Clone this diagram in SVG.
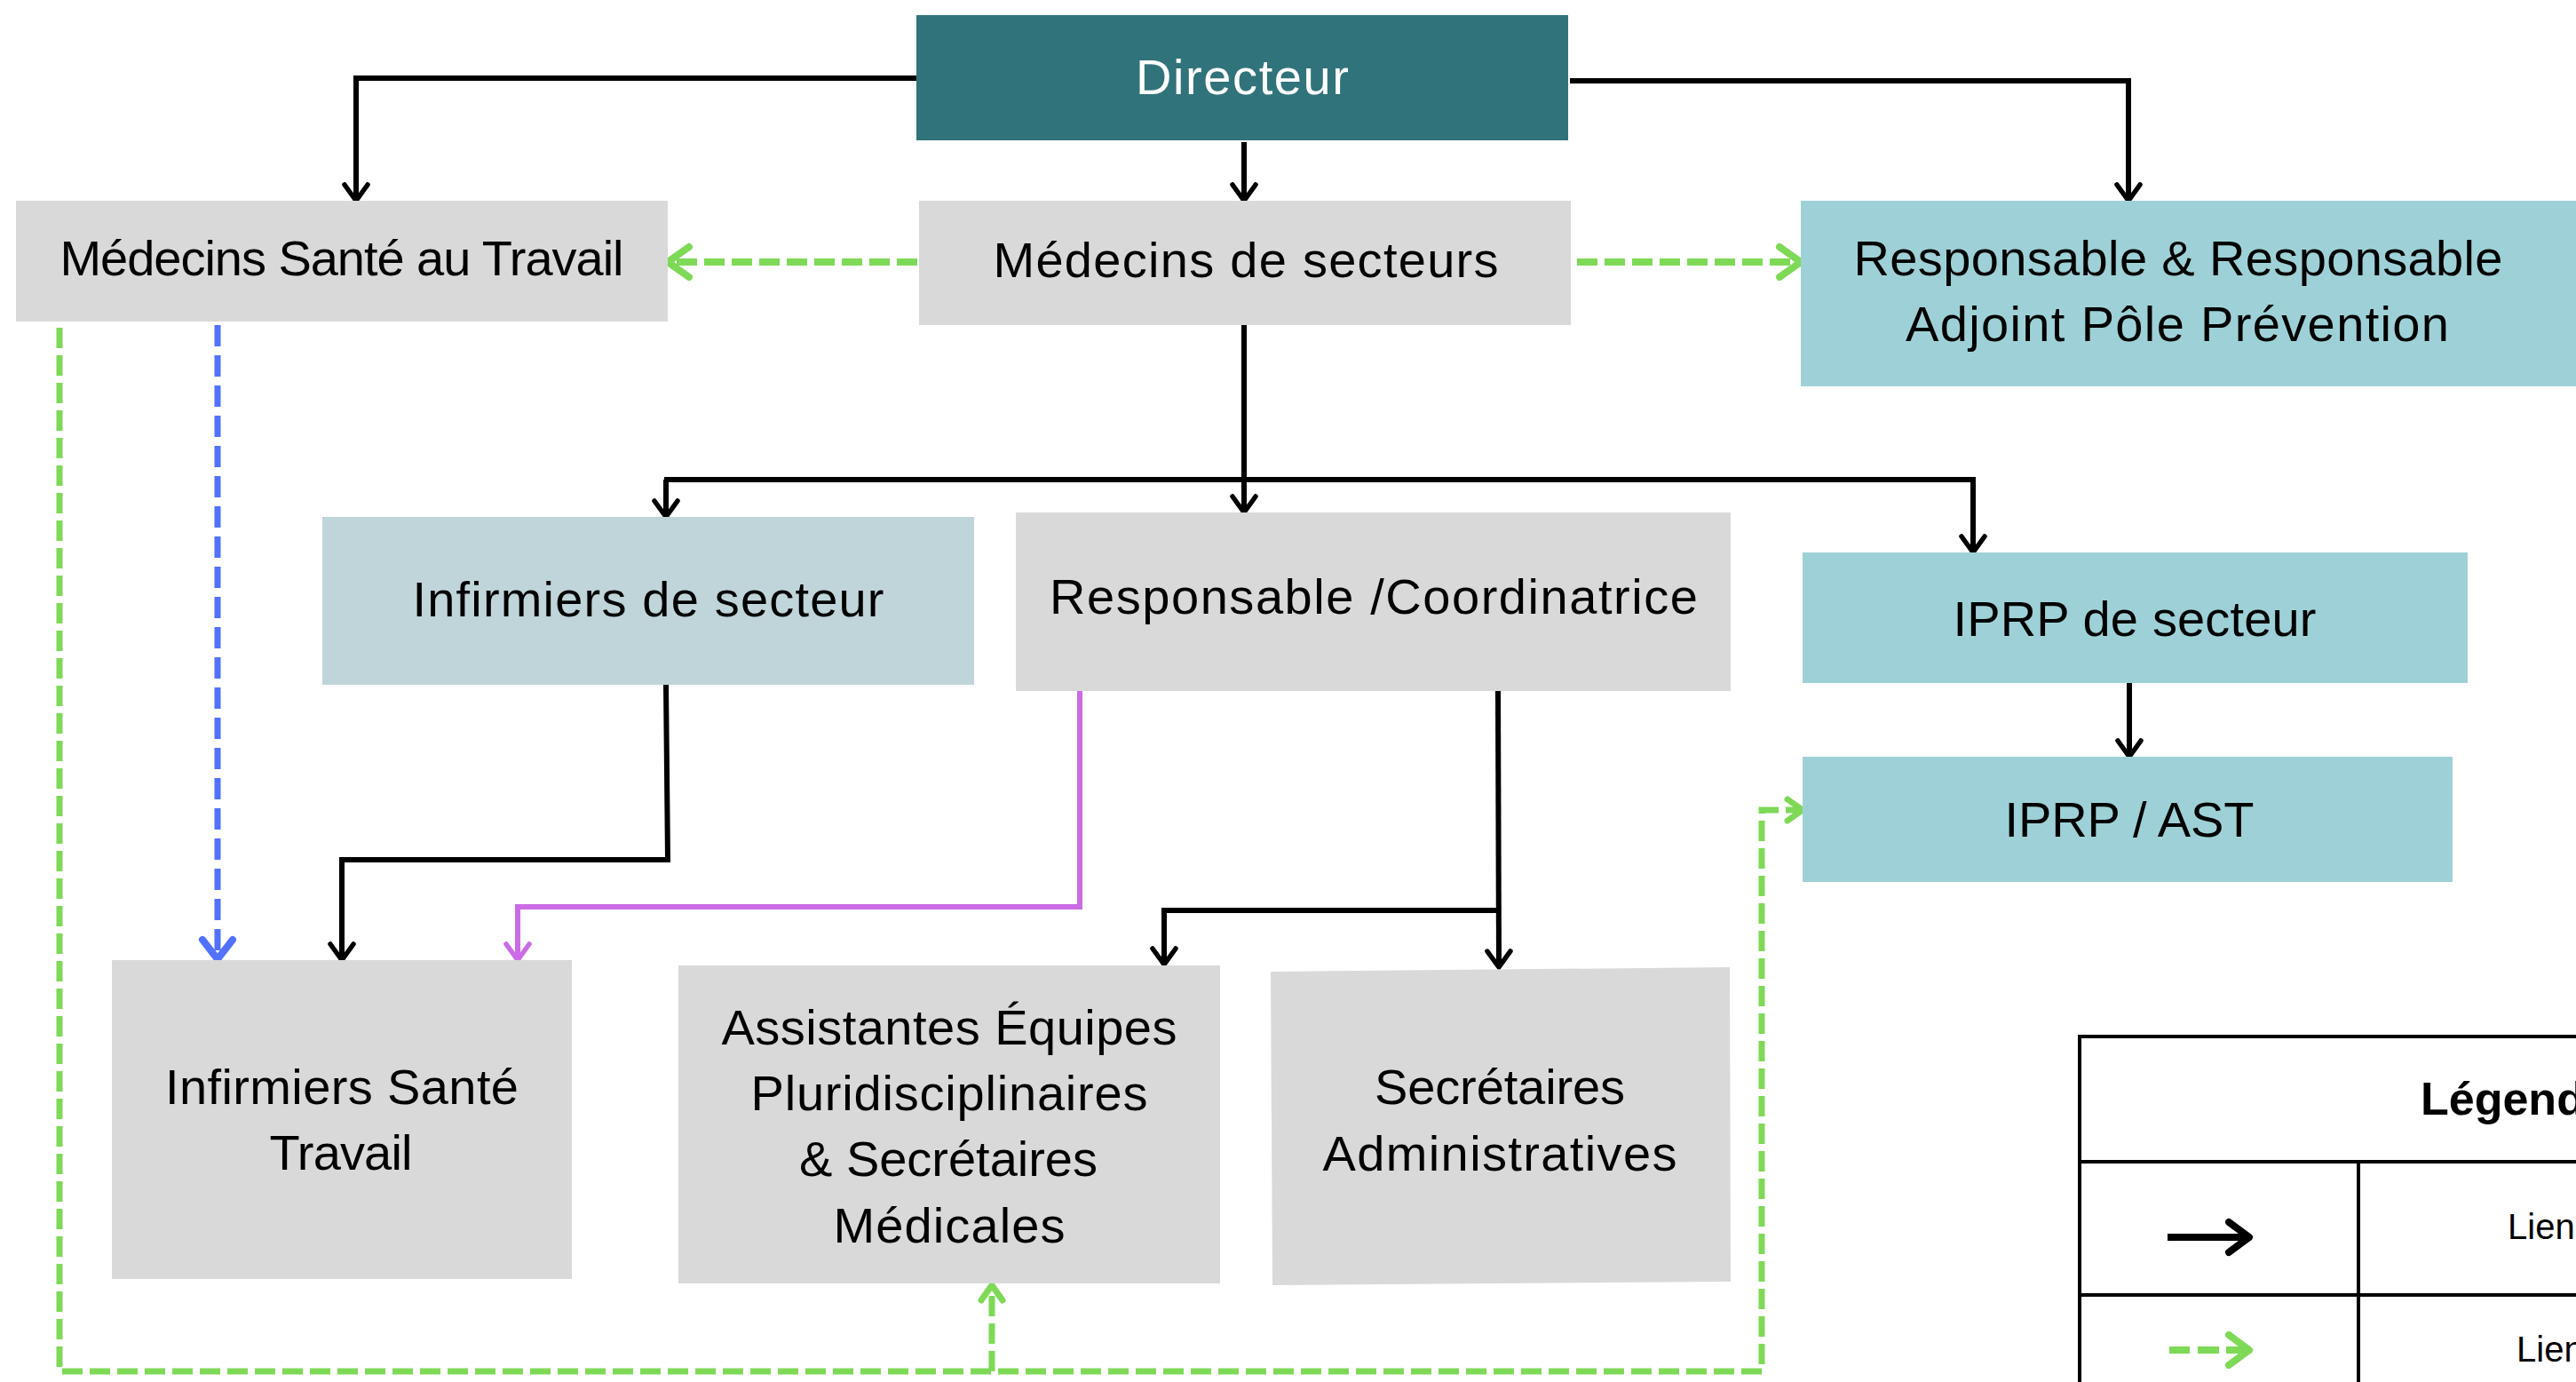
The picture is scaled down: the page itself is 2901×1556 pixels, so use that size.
<svg xmlns="http://www.w3.org/2000/svg" width="2901" height="1556" viewBox="0 0 2901 1556">
<style>
.t{font-family:"Liberation Sans",Arial,sans-serif;font-size:56px;fill:#000;text-anchor:middle}
.w{fill:#fff}
.gray{fill:#D9D9D9}
.teal{fill:#9ED1D7}
.pale{fill:#C0D5D9}
.dark{fill:#31737B}
.k{fill:none;stroke:#000;stroke-width:6;stroke-linejoin:miter}
.g{fill:none;stroke:#7ED957;stroke-width:7;stroke-dasharray:23 8}
.b{fill:none;stroke:#5271FF;stroke-width:7;stroke-dasharray:24 10}
.p{fill:none;stroke:#CB6CE6;stroke-width:6}
.leg{fill:none;stroke:#000;stroke-width:4}
</style>
<defs>
<marker id="mk" viewBox="-30 -30 40 60" refX="0" refY="0" markerWidth="40" markerHeight="60" markerUnits="userSpaceOnUse" orient="auto" overflow="visible">
<path d="M-15,-13 L3,0 L-15,13" fill="none" stroke="#000" stroke-width="5.5" stroke-linecap="round" stroke-linejoin="round"/>
</marker>
<marker id="mp" viewBox="-30 -30 40 60" refX="0" refY="0" markerWidth="40" markerHeight="60" markerUnits="userSpaceOnUse" orient="auto" overflow="visible">
<path d="M-15,-13 L3,0 L-15,13" fill="none" stroke="#CB6CE6" stroke-width="5.5" stroke-linecap="round" stroke-linejoin="round"/>
</marker>
<marker id="mb" viewBox="-30 -30 40 60" refX="0" refY="0" markerWidth="40" markerHeight="60" markerUnits="userSpaceOnUse" orient="auto" overflow="visible">
<path d="M-19,-17 L3,0 L-19,17" fill="none" stroke="#5271FF" stroke-width="8" stroke-linecap="round" stroke-linejoin="round"/>
</marker>
<marker id="mgL" viewBox="-30 -30 40 60" refX="0" refY="0" markerWidth="40" markerHeight="60" markerUnits="userSpaceOnUse" orient="auto" overflow="visible">
<path d="M-21,-17 L3,0 L-21,17" fill="none" stroke="#7ED957" stroke-width="8" stroke-linecap="round" stroke-linejoin="round"/>
</marker>
<marker id="mgS" viewBox="-30 -30 40 60" refX="0" refY="0" markerWidth="40" markerHeight="60" markerUnits="userSpaceOnUse" orient="auto" overflow="visible">
<path d="M-14,-12 L3,0 L-14,12" fill="none" stroke="#7ED957" stroke-width="7" stroke-linecap="round" stroke-linejoin="round"/>
</marker>
</defs>
<rect width="2901" height="1556" fill="#fff"/>

<g id="connectors">
<path class="k" d="M1032,88 H401 V223" marker-end="url(#mk)"/>
<path class="k" d="M1401,160 V223" marker-end="url(#mk)"/>
<path class="k" d="M1768,91 H2397 V223" marker-end="url(#mk)"/>
<path class="k" d="M1401,366 V574" marker-end="url(#mk)"/>
<path class="k" d="M750,540 V579" marker-end="url(#mk)"/>
<path class="k" d="M748,540 H2222 V619" marker-end="url(#mk)"/>
<path class="k" d="M2398,769 V849" marker-end="url(#mk)"/>
<path class="k" d="M750,771 L752,968 H385 V1078" marker-end="url(#mk)"/>
<path class="k" d="M1687,778 L1688,1086" marker-end="url(#mk)"/>
<path class="k" d="M1688,1025 H1311 V1083" marker-end="url(#mk)"/>
<path class="p" d="M1216,778 V1021 H583 V1078" marker-end="url(#mp)"/>
<path class="g" style="stroke-width:8" d="M1033,295 H755" marker-end="url(#mgL)"/>
<path class="g" style="stroke-width:8" d="M1776,295 H2025" marker-end="url(#mgL)"/>
<path class="b" d="M245,366 V1077" marker-end="url(#mb)"/>
<path class="g" d="M67,369 V1544 H1984 V912 H2027" marker-end="url(#mgS)"/>
<path class="g" d="M1117,1544 V1450" marker-end="url(#mgS)"/>
</g>

<g id="n-directeur">
<rect class="dark" x="1032" y="17" width="734" height="141"/>
<text class="t w" x="1399" y="106" textLength="240">Directeur</text>
</g>
<g id="n-medecins-sante-travail">
<rect class="gray" x="18" y="226" width="734" height="136"/>
<text class="t" x="385" y="310" textLength="635">Médecins Santé au Travail</text>
</g>
<g id="n-medecins-secteurs">
<rect class="gray" x="1035" y="226" width="734" height="140"/>
<text class="t" x="1403" y="312" textLength="569">Médecins de secteurs</text>
</g>
<g id="n-responsable-prevention">
<rect class="teal" x="2028" y="226" width="900" height="209"/>
<text class="t" x="2453" y="310" textLength="731">Responsable &amp; Responsable</text>
<text class="t" x="2452" y="384" textLength="612">Adjoint Pôle Prévention</text>
</g>
<g id="n-infirmiers-secteur">
<rect class="pale" x="363" y="582" width="734" height="189"/>
<text class="t" x="730" y="694" textLength="531">Infirmiers de secteur</text>
</g>
<g id="n-responsable-coordinatrice">
<rect class="gray" x="1144" y="577" width="805" height="201"/>
<text class="t" x="1547" y="691" textLength="730">Responsable /Coordinatrice</text>
</g>
<g id="n-iprp-secteur">
<rect class="teal" x="2030" y="622" width="749" height="147"/>
<text class="t" x="2404" y="716" textLength="409">IPRP de secteur</text>
</g>
<g id="n-iprp-ast">
<rect class="teal" x="2030" y="852" width="732" height="141"/>
<text class="t" x="2398" y="942" textLength="281">IPRP / AST</text>
</g>
<g id="n-infirmiers-sante-travail">
<rect class="gray" x="126" y="1081" width="518" height="359"/>
<text class="t" x="385" y="1243" textLength="398">Infirmiers Santé</text>
<text class="t" x="384" y="1317" textLength="161">Travail</text>
</g>
<g id="n-assistantes">
<rect class="gray" x="764" y="1087" width="610" height="358"/>
<text class="t" x="1069" y="1176" textLength="513">Assistantes Équipes</text>
<text class="t" x="1069" y="1250" textLength="447">Pluridisciplinaires</text>
<text class="t" x="1068" y="1324" textLength="336">&amp; Secrétaires</text>
<text class="t" x="1069" y="1399" textLength="261">Médicales</text>
</g>
<g id="n-secretaires-admin">
<polygon class="gray" points="1431,1094 1948,1089 1949,1443 1433,1447"/>
<text class="t" x="1689" y="1243" textLength="282">Secrétaires</text>
<text class="t" x="1689" y="1318" textLength="399">Administratives</text>
</g>

<g id="legend">
<rect class="leg" x="2342" y="1167" width="700" height="500"/>
<line class="leg" x1="2342" y1="1308" x2="2950" y2="1308"/>
<line class="leg" x1="2342" y1="1458" x2="2950" y2="1458"/>
<line class="leg" x1="2656" y1="1308" x2="2656" y2="1600"/>
<text x="2726" y="1255" style="font-family:'Liberation Sans',Arial,sans-serif;font-size:52px;font-weight:bold">Légende</text>
<text x="2824" y="1395" style="font-family:'Liberation Sans',Arial,sans-serif;font-size:40px">Lien</text>
<text x="2834" y="1533" style="font-family:'Liberation Sans',Arial,sans-serif;font-size:40px">Lien</text>
<path d="M2441,1393 H2530" stroke="#000" stroke-width="8" fill="none"/>
<path d="M2510,1376 L2533,1393 L2510,1410" stroke="#000" stroke-width="8" fill="none" stroke-linecap="round" stroke-linejoin="round"/>
<path d="M2443,1520 H2466 M2475,1520 H2499 M2507,1520 H2530" stroke="#7ED957" stroke-width="8" fill="none"/>
<path d="M2510,1503 L2533,1520 L2510,1537" stroke="#7ED957" stroke-width="8" fill="none" stroke-linecap="round" stroke-linejoin="round"/>
</g>
</svg>
